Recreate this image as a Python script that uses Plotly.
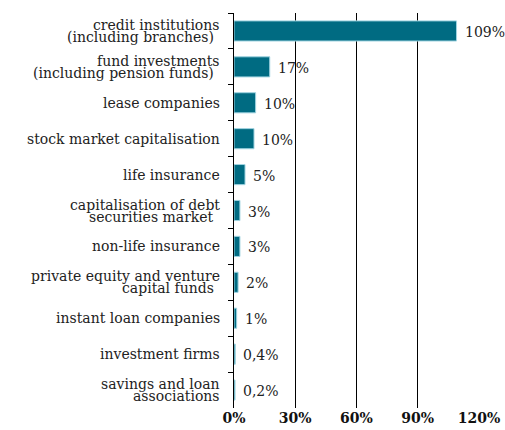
import plotly.graph_objects as go

categories = [
    "credit institutions<br>(including branches)",
    "fund investments<br>(including pension funds)",
    "lease companies",
    "stock market capitalisation",
    "life insurance",
    "capitalisation of debt<br>securities market",
    "non-life insurance",
    "private equity and venture<br>capital funds",
    "instant loan companies",
    "investment firms",
    "savings and loan<br>associations",
]
values = [109, 17.5, 10.6, 9.8, 5.4, 2.9, 2.9, 2.0, 1.3, 0.6, 0.5]
value_labels = ["109%", "17%", "10%", "10%", "5%", "3%", "3%", "2%", "1%", "0,4%", "0,2%"]
x_tick_vals = [0, 30, 60, 90, 120]
x_tick_text = ["0%", "30%", "60%", "90%", "120%"]

FONT = "DejaVu Serif"
TXT = "#222222"

fig = go.Figure(go.Bar(
    y=categories,
    x=values,
    orientation="h",
    marker=dict(color="#006B82", line=dict(color="#9fd3e0", width=1)),
    width=0.56,
    hoverinfo="x+y",
))

annotations = []
# value labels
for cat, v, lab in zip(categories, values, value_labels):
    annotations.append(dict(
        x=v, y=cat, xref="x", yref="y", text=lab, showarrow=False,
        xanchor="left", yanchor="middle", xshift=6, yshift=-1,
        font=dict(family=FONT, size=14, color=TXT),
    ))
# category labels (tight line spacing like the reference)
for cat in categories:
    lines = cat.split("<br>")
    n = len(lines)
    for i, line in enumerate(lines):
        shift = (i - (n - 1) / 2) * 12
        annotations.append(dict(
            x=0, y=cat, xref="paper", yref="y", text=line, showarrow=False,
            xanchor="right", yanchor="middle",
            xshift=-12 if (n == 1 or i == 0 or cat.endswith("associations")) else -18,
            yshift=-shift,
            font=dict(family=FONT, size=14, color=TXT),
        ))

fig.update_layout(
    width=505, height=430,
    margin=dict(l=234, r=26, t=13, b=22),
    plot_bgcolor="white", paper_bgcolor="white",
    showlegend=False,
    annotations=annotations,
)
fig.update_xaxes(
    range=[0, 120],
    tickvals=x_tick_vals, ticktext=x_tick_text,
    tickfont=dict(family=FONT, size=14, color="#111111", weight="bold"),
    showgrid=True, gridcolor="black", gridwidth=1,
    zeroline=False, showline=False, ticks="", automargin=False,
)
fig.update_yaxes(
    categoryorder="array", categoryarray=categories,
    autorange="reversed",
    showticklabels=False,
    showline=True, linecolor="black", linewidth=1,
    ticks="outside", tickson="boundaries", ticklen=5, tickcolor="black",
    showgrid=False, automargin=False,
)

# remove the default page margin so the 505x430 figure fills the window exactly
fig.write_html(
    "out.html",
    config={"displayModeBar": False},
    post_script="document.body.style.margin='0';document.body.style.overflow='hidden';",
)
